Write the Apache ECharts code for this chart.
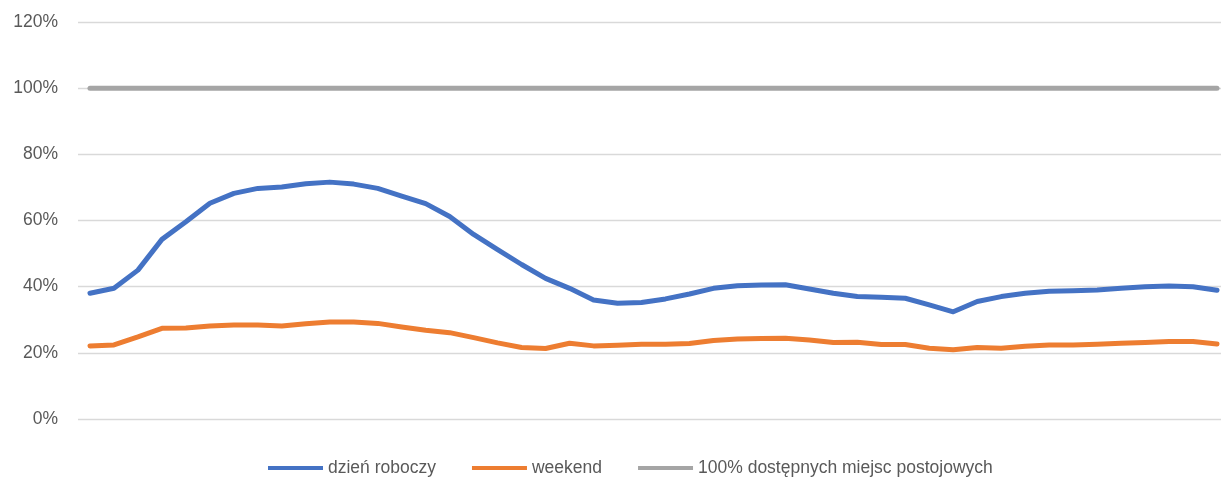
<!DOCTYPE html>
<html>
<head>
<meta charset="utf-8">
<script src="https://cdn.jsdelivr.net/npm/echarts@6/dist/echarts.min.js"></script>
<style>
  html, body { margin: 0; padding: 0; background: #fff; }
  #myChart { width: 1221px; height: 479px; }
</style>
</head>
<body>
<div id="myChart"></div>
<script>
// godziny (co pół godziny) - na osi X bez etykiet
var categories = [
  "0:00", "0:30", "1:00", "1:30", "2:00", "2:30", "3:00", "3:30",
  "4:00", "4:30", "5:00", "5:30", "6:00", "6:30", "7:00", "7:30",
  "8:00", "8:30", "9:00", "9:30", "10:00", "10:30", "11:00", "11:30",
  "12:00", "12:30", "13:00", "13:30", "14:00", "14:30", "15:00", "15:30",
  "16:00", "16:30", "17:00", "17:30", "18:00", "18:30", "19:00", "19:30",
  "20:00", "20:30", "21:00", "21:30", "22:00", "22:30", "23:00", "23:30"
];

// dzień roboczy (%)
var workday = [
  38.0, 39.5, 45.0, 54.3, 59.6, 65.2, 68.2, 69.7,
  70.1, 71.1, 71.6, 71.0, 69.7, 67.4, 65.1, 61.2,
  55.8, 51.2, 46.7, 42.5, 39.5, 36.0, 35.0, 35.2,
  36.3, 37.8, 39.5, 40.3, 40.5, 40.6, 39.3, 38.0,
  37.0, 36.8, 36.5, 34.5, 32.4, 35.5, 37.0, 38.0,
  38.6, 38.8, 39.0, 39.5, 40.0, 40.2, 40.0, 38.9
];

// weekend (%)
var weekend = [
  22.1, 22.4, 24.8, 27.4, 27.5, 28.1, 28.4, 28.4,
  28.1, 28.8, 29.3, 29.3, 28.9, 27.8, 26.8, 26.1,
  24.6, 23.0, 21.6, 21.3, 22.9, 22.1, 22.3, 22.6,
  22.6, 22.8, 23.7, 24.2, 24.3, 24.4, 23.9, 23.1,
  23.2, 22.5, 22.5, 21.4, 20.9, 21.6, 21.4, 22.0,
  22.4, 22.4, 22.6, 22.9, 23.1, 23.4, 23.4, 22.7
];

// 100% dostępnych miejsc postojowych
var capacity = [
  100, 100, 100, 100, 100, 100, 100, 100,
  100, 100, 100, 100, 100, 100, 100, 100,
  100, 100, 100, 100, 100, 100, 100, 100,
  100, 100, 100, 100, 100, 100, 100, 100,
  100, 100, 100, 100, 100, 100, 100, 100,
  100, 100, 100, 100, 100, 100, 100, 100
];

var yTicks = [0, 20, 40, 60, 80, 100, 120];

var fontName = "'Liberation Sans', Arial, sans-serif";

function lineSeries(name, data, color) {
  return {
    name: name,
    type: "line",
    data: data,
    symbol: "none",
    smooth: false,
    color: color,
    lineStyle: { color: color, width: 5, cap: "round", join: "round" }
  };
}

var myChart = echarts.init(document.getElementById("myChart"), null, { renderer: "canvas" });
myChart.setOption({
  animation: false,
  // siatka wychodzi poza prawą krawędź (jak w oryginale)
  grid: { left: 78, top: 22, width: 1151, height: 397, outerBoundsMode: "none", containLabel: false },
  legend: {
    left: 263,
    top: 454,
    itemWidth: 55,
    itemHeight: 4,
    itemGap: 36,
    icon: "rect",
    textStyle: { color: "#595959", fontSize: 17.5, fontFamily: fontName },
    data: ["dzień roboczy", "weekend", "100% dostępnych miejsc postojowych"]
  },
  xAxis: {
    type: "category",
    data: categories,
    boundaryGap: true,
    axisLine: { show: false },
    axisTick: { show: false },
    axisLabel: { show: false },
    splitLine: { show: false }
  },
  yAxis: {
    type: "value",
    min: yTicks[0],
    max: yTicks[yTicks.length - 1],
    interval: yTicks[1] - yTicks[0],
    axisLine: { show: false },
    axisTick: { show: false },
    axisLabel: {
      margin: 20,
      color: "#595959",
      fontSize: 17.5,
      fontFamily: fontName,
      formatter: "{value}%"
    },
    splitLine: { show: true, lineStyle: { color: "#D9D9D9", width: 1.3 } }
  },
  series: [
    lineSeries("dzień roboczy", workday, "#4472C4"),
    lineSeries("weekend", weekend, "#ED7D31"),
    lineSeries("100% dostępnych miejsc postojowych", capacity, "#A5A5A5")
  ]
});
</script>
</body>
</html>
